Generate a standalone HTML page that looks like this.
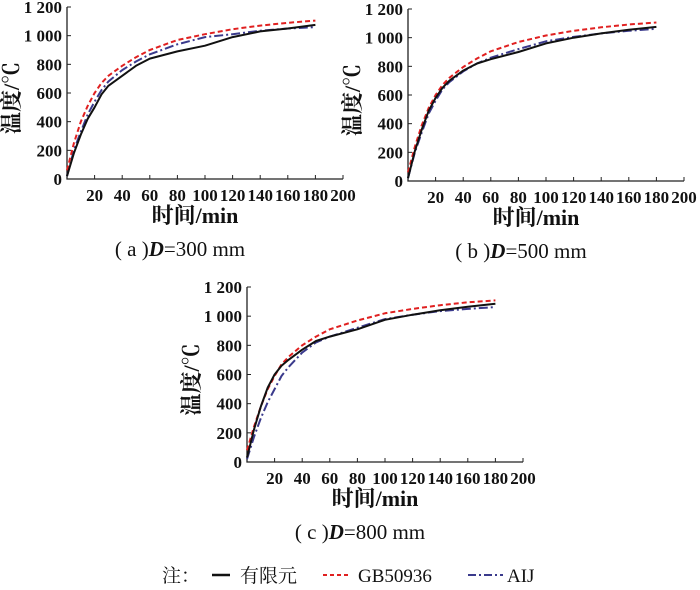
<!DOCTYPE html>
<html><head><meta charset="utf-8"><style>
body{margin:0;background:#fff;width:700px;height:590px;overflow:hidden}
svg{display:block}
text{font-family:"Liberation Serif","Noto Serif CJK SC",serif;fill:#111}
.tk{font-size:17px;font-weight:bold}
.ti{font-size:22px;font-weight:bold}
.cap{font-size:21px}
.lg{font-size:19px}
</style></head><body>
<svg id="chart" width="700" height="590"></svg>
<script>
const xTicks=[20,40,60,80,100,120,140,160,180,200];
const yTicks=[0,200,400,600,800,1000,1200];
const yTickLabels=["0","200","400","600","800","1 000","1 200"];
const times=[0,5,10,15,20,25,30,40,50,60,80,100,120,140,160,180];
const feA=[20,180,310,420,500,590,650,720,790,840,890,930,990,1030,1050,1075];
const gbA=[60,250,400,510,600,670,720,790,850,900,970,1010,1045,1070,1090,1105];
const aijA=[20,200,330,450,540,620,680,760,820,870,940,990,1010,1035,1050,1060];
const feB=[20,210,360,490,580,650,700,770,820,850,900,960,1000,1030,1055,1075];
const gbB=[60,240,390,510,600,670,720,795,855,905,970,1015,1048,1072,1092,1106];
const aijB=[20,200,340,470,560,640,690,765,820,860,920,975,1005,1030,1048,1062];
const feC=[30,220,380,510,600,660,700,770,830,860,910,975,1010,1040,1065,1085];
const gbC=[80,240,380,500,590,670,720,800,860,910,970,1020,1050,1075,1095,1108];
const aijC=[20,170,300,410,500,590,650,750,820,860,920,980,1010,1035,1050,1062];
const panels=[
 {id:"a",x0:67,y0:179,w:276,h:172,cap:"300",fe:feA,gb:gbA,aij:aijA},
 {id:"b",x0:408,y0:181,w:276,h:172,cap:"500",fe:feB,gb:gbB,aij:aijB},
 {id:"c",x0:247,y0:462,w:276,h:175,cap:"800",fe:feC,gb:gbC,aij:aijC}];
const NS="http://www.w3.org/2000/svg";
const svg=document.getElementById("chart");
function mk(tag,attrs,parent){const e=document.createElementNS(NS,tag);for(const k in attrs)e.setAttribute(k,attrs[k]);(parent||svg).appendChild(e);return e;}
panels.forEach(p=>{
 const g=mk("g",{});
 
 
 const sx=v=>p.x0+v/200*p.w, sy=v=>p.y0-v/1200*p.h;
 const ax=mk("path",{d:`M${p.x0} ${sy(1200)}V${p.y0}H${sx(200)}`,stroke:"#222","stroke-width":1.3,fill:"none"},g);
 
 
 yTicks.forEach((v,i)=>{
  mk("line",{x1:p.x0,x2:p.x0+4,y1:sy(v),y2:sy(v),stroke:"#222"},g);
  const t=mk("text",{x:p.x0-5,y:sy(v)+6,"text-anchor":"end",class:"tk"},g);t.textContent=yTickLabels[i];
  
  
 });
 xTicks.forEach(v=>{
  mk("line",{x1:sx(v),x2:sx(v),y1:p.y0,y2:p.y0-4,stroke:"#222"},g);
  const t=mk("text",{x:sx(v),y:p.y0+22,"text-anchor":"middle",class:"tk"},g);t.textContent=v;
  
  
 });
 const yt=mk("text",{transform:`translate(${p.x0-48},${p.y0-p.h/2+5}) rotate(-90)`,"text-anchor":"middle",class:"ti"},g);yt.textContent="温度/℃";
 
 
 const xt=mk("text",{x:p.x0+p.w/2-10,y:p.y0+44,"text-anchor":"middle",class:"ti"},g);xt.textContent="时间/min";
 
 
 const cp=mk("text",{x:p.x0+p.w/2-25,y:p.y0+77,"text-anchor":"middle",class:"cap"},g);
 cp.innerHTML=`( ${p.id} )<tspan font-style="italic" font-weight="bold">D</tspan>=${p.cap} mm`;
 
 
 const line=(arr,st,dash,nm)=>{const d=arr.map((v,i)=>(i?"L":"M")+sx(times[i]).toFixed(1)+" "+sy(v).toFixed(1)).join("");
  const l=mk("path",{d,stroke:st,"stroke-width":2,fill:"none","stroke-dasharray":dash,"stroke-linejoin":"round"},g);
  
  };
 line(p.aij,"#3a3a8c","9 3 2 3","aij-line");
 line(p.gb,"#e02020","5 3","gb50936-line");
 line(p.fe,"#111","","fe-line");
});
const lg=mk("g",{});


const t1=mk("text",{x:162,y:582,class:"lg"},lg);t1.textContent="注：";
mk("line",{x1:212,x2:230,y1:575,y2:575,stroke:"#111","stroke-width":2.5},lg);
const t2=mk("text",{x:240,y:582,class:"lg"},lg);t2.textContent="有限元";


mk("line",{x1:323,x2:350,y1:575,y2:575,stroke:"#e02020","stroke-width":2,"stroke-dasharray":"4 3"},lg);
const t3=mk("text",{x:358,y:582,class:"lg"},lg);t3.textContent="GB50936";


mk("line",{x1:468,x2:503,y1:575,y2:575,stroke:"#3a3a8c","stroke-width":2,"stroke-dasharray":"8 3 2 3"},lg);
const t4=mk("text",{x:507,y:582,class:"lg"},lg);t4.textContent="AIJ";


</script>
</body></html>
